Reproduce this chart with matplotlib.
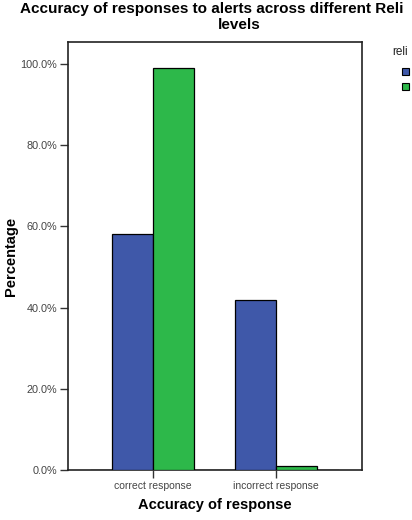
import numpy as np
import matplotlib
matplotlib.use('Agg')
import matplotlib.pyplot as plt
from matplotlib.patches import Rectangle

plt.rcParams['font.family'] = ['Liberation Sans', 'DejaVu Sans']

# Data
categories = ['correct response', 'incorrect response']
low_values = [58.1, 41.9]
high_values = [99.0, 1.0]
colors = ['#3F58A9', '#2DB84A']
yticks = [0, 20, 40, 60, 80, 100]

W, H = 412, 520
fig = plt.figure(figsize=(W / 100, H / 100), dpi=100)
ax = fig.add_axes([68 / W, 1 - 470 / H, 294 / W, 428 / H])

x = np.arange(len(categories))
bw = 0.333
ax.bar(x - bw / 2, low_values, width=bw, color=colors[0], edgecolor='black', linewidth=0.9, zorder=3)
ax.bar(x + bw / 2, high_values, width=bw, color=colors[1], edgecolor='black', linewidth=0.9, zorder=3)
ax.plot([-0.5, 1.5], [0, 0], color='#333333', linewidth=1.0, zorder=2)

ax.set_xlim(-0.691, 1.699)
ax.set_ylim(0, 105.4)
ax.set_yticks(yticks)
ax.set_yticklabels([f'{v:.1f}%' for v in yticks], fontsize=7.8, color='#444444')
ax.set_xticks(x)
ax.set_xticklabels(categories, fontsize=7.5, color='#444444')
ax.tick_params(axis='both', length=6, width=1, color='#333333', pad=2)
for s in ax.spines.values():
    s.set_linewidth(1.2)
    s.set_color('#222222')

ax.set_xlabel('Accuracy of response', fontsize=10.5, fontweight='bold', labelpad=5)
fig.text(11 / W, 1 - 256 / H, 'Percentage', rotation=90, ha='center', va='center',
         fontsize=10.5, fontweight='bold')

# title (cut at the right edge as in the source image)
fig.text(20 / W, 1 - 9 / H, 'Accuracy of responses to alerts across different Reli',
         ha='left', va='center', fontsize=11, fontweight='bold')
fig.text(239 / W, 1 - 25 / H, 'levels', ha='center', va='center', fontsize=11, fontweight='bold')

# legend, cut at the right edge
fig.text(392 / W, 1 - 52 / H, 'reli', ha='left', va='center', fontsize=8.5, color='#222222')
for i, c in enumerate(colors):
    y0 = 1 - (75 + 15 * i) / H
    fig.patches.append(Rectangle((402 / W, y0), 7 / W, 7 / H, transform=fig.transFigure,
                                 facecolor=c, edgecolor='black', linewidth=0.8))

fig.savefig('out.png', dpi=100)
